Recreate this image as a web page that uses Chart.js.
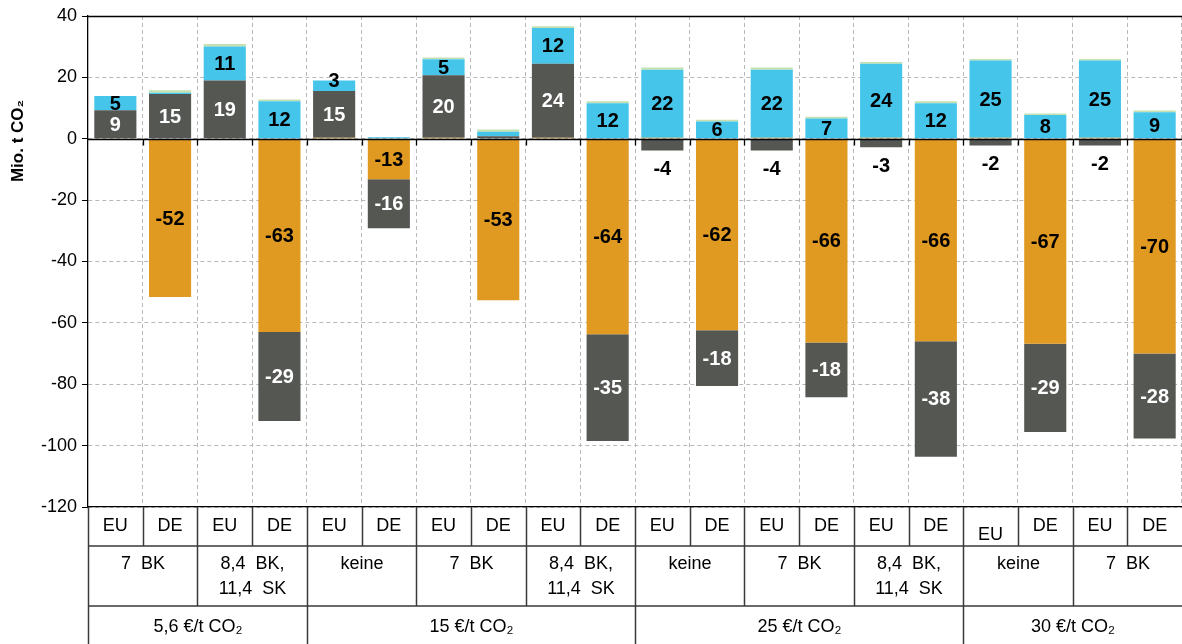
<!DOCTYPE html>
<html>
<head>
<meta charset="utf-8">
<script src="https://cdn.jsdelivr.net/npm/chart.js@4.4.1/dist/chart.umd.min.js"></script>
<style>
  body { margin: 0; background: #fff; }
  canvas { display: block; }
</style>
</head>
<body>
<canvas id="co2Chart" width="1182" height="644"></canvas>
<script>
// Regionen (erste Zeile unter dem Diagramm)
const regionen = ['EU', 'DE', 'EU', 'DE', 'EU', 'DE', 'EU', 'DE', 'EU', 'DE',
                  'EU', 'DE', 'EU', 'DE', 'EU', 'DE', 'EU', 'DE', 'EU', 'DE'];
// Mindestmengen (zweite Zeile, je 2 Spalten)
const mengen = [['7  BK'], ['8,4  BK,', '11,4  SK'], ['keine'], ['7  BK'], ['8,4  BK,', '11,4  SK'],
                ['keine'], ['7  BK'], ['8,4  BK,', '11,4  SK'], ['keine'], ['7  BK']];
// CO2-Preise (dritte Zeile) und wie viele Spalten sie umfassen
const preise = ['5,6 €/t CO₂', '15 €/t CO₂', '25 €/t CO₂', '30 €/t CO₂'];
const preisSpalten = [4, 6, 6, 4];

const yTicks = [40, 20, 0, -20, -40, -60, -80, -100, -120];

// Werte (Mio. t CO2), gestapelt in dieser Reihenfolge
const orange = [0, -51.6, 0, -63.0, 0.3, -13.2, 0.3, -52.6, 0.3, -63.7,
                0.3, -62.4, 0.3, -66.4, 0.3, -66.0, 0.3, -66.8, 0.3, -70.0];
const grau   = [9.3, 14.6, 19.0, -29.0, 15.3, -16.0, 20.4, 0.8, 24.1, -34.8,
                -3.8, -18.2, -3.8, -17.8, -2.8, -37.6, -2.2, -28.8, -2.2, -27.7];
const blau   = [4.6, 0.4, 11.1, 12.2, 3.4, 0.5, 5.2, 1.5, 11.7, 11.6,
                22.2, 5.6, 22.2, 6.6, 24.1, 11.6, 25.2, 7.7, 25.2, 8.6];
const gruen  = [0, 0.8, 0.8, 0.6, 0, 0, 0.6, 0.7, 0.6, 0.6,
                0.7, 0.6, 0.7, 0.6, 0.6, 0.6, 0.5, 0.5, 0.5, 0.6];

const FONT = '"Liberation Sans", Arial, sans-serif';

// draws zero line, frame, value labels and the category table
const extrasPlugin = {
  id: 'extras',
  afterDatasetsDraw(chart) {
    const ctx = chart.ctx;
    const area = chart.chartArea;
    const x = chart.scales.x;
    const y = chart.scales.y;
    const colW = x.getPixelForValue(1) - x.getPixelForValue(0);
    const y0 = Math.round(y.getPixelForValue(0)) + 0.5;

    ctx.save();
    ctx.strokeStyle = '#000';
    ctx.lineWidth = 1.3;
    ctx.beginPath();
    ctx.moveTo(area.left, y0);
    ctx.lineTo(area.right, y0);
    // top frame
    ctx.moveTo(area.left, Math.round(area.top) + 0.5);
    ctx.lineTo(area.right, Math.round(area.top) + 0.5);
    // little ticks under zero line
    for (let i = 1; i < regionen.length; i++) {
      const bx = Math.round(x.getPixelForValue(i) - colW / 2) + 0.5;
      ctx.moveTo(bx, y0);
      ctx.lineTo(bx, y0 + 6);
    }
    ctx.stroke();

    // value labels
    ctx.font = 'bold 20px ' + FONT;
    ctx.textAlign = 'center';
    ctx.textBaseline = 'middle';
    chart.data.datasets.forEach((ds, di) => {
      if (!ds.showLabels) return;
      const meta = chart.getDatasetMeta(di);
      meta.data.forEach((bar, i) => {
        const v = ds.data[i];
        if (Math.abs(v) < 1.8) return;
        const top = Math.min(bar.y, bar.base);
        const bottom = Math.max(bar.y, bar.base);
        let ly = (top + bottom) / 2;
        let col = ds.textColor;
        if (bottom - top < 12) {
          if (v > 0) {
            ly = top;
          } else {
            ly = bottom + 18;
            col = '#000';
          }
        }
        ctx.fillStyle = col;
        ctx.fillText(String(Math.round(v)), bar.x, ly + 1);
      });
    });
    ctx.restore();
  },
  afterDraw(chart) {
    const ctx = chart.ctx;
    const area = chart.chartArea;
    const x = chart.scales.x;
    const colW = x.getPixelForValue(1) - x.getPixelForValue(0);
    const edge = i => Math.round(x.getPixelForValue(0) - colW / 2 + i * colW) + 0.5;
    const r0 = area.bottom, r1 = r0 + 39, r2 = r0 + 99, r3 = chart.height;

    ctx.save();
    ctx.strokeStyle = '#3a3a3a';
    ctx.lineWidth = 1.5;
    ctx.beginPath();
    ctx.moveTo(edge(0), r0); ctx.lineTo(edge(0), r3);
    ctx.moveTo(area.left, r1); ctx.lineTo(area.right, r1);
    ctx.moveTo(area.left, r2); ctx.lineTo(area.right, r2);
    for (let i = 1; i < regionen.length; i++) {
      ctx.moveTo(edge(i), r0); ctx.lineTo(edge(i), r1);
    }
    for (let j = 1; j < mengen.length; j++) {
      ctx.moveTo(edge(j * 2), r1); ctx.lineTo(edge(j * 2), r2);
    }
    let k = 0;
    preisSpalten.forEach((n, j) => {
      k += n;
      if (j < preisSpalten.length - 1) {
        ctx.moveTo(edge(k), r2); ctx.lineTo(edge(k), r3);
      }
    });
    ctx.stroke();

    ctx.fillStyle = '#000';
    ctx.font = '18px ' + FONT;
    ctx.textAlign = 'center';
    ctx.textBaseline = 'middle';
    regionen.forEach((r, i) => {
      // in the reference one EU label sits a little lower
      const dy = i === 16 ? 9 : 0;
      ctx.fillText(r, x.getPixelForValue(i), r0 + 19 + dy);
    });
    mengen.forEach((lines, j) => {
      const cx = (edge(j * 2) + edge(j * 2 + 2)) / 2;
      lines.forEach((t, l) => ctx.fillText(t, cx, r1 + 18 + l * 25));
    });
    k = 0;
    preise.forEach((p, j) => {
      const cx = (edge(k) + edge(k + preisSpalten[j])) / 2;
      ctx.fillText(p, cx, r2 + 21);
      k += preisSpalten[j];
    });

    // y axis title
    ctx.translate(18, 141);
    ctx.rotate(-Math.PI / 2);
    ctx.font = 'bold 17px ' + FONT;
    ctx.fillText('Mio. t CO₂', 0, 0);
    ctx.restore();
  }
};

const ctx = document.getElementById('co2Chart').getContext('2d');

const chart = new Chart(ctx, {
  type: 'bar',
  data: {
    labels: regionen,
    datasets: [
      { label: 'orange', data: orange, backgroundColor: '#e09a22', showLabels: true, textColor: '#000' },
      { label: 'grau', data: grau, backgroundColor: '#555753', showLabels: true, textColor: '#fff' },
      { label: 'blau', data: blau, backgroundColor: '#45c5ea', showLabels: true, textColor: '#000' },
      { label: 'gruen', data: gruen, backgroundColor: '#c5e0b0', showLabels: false }
    ]
  },
  options: {
    responsive: false,
    animation: false,
    layout: { padding: { top: 16, right: 0, bottom: 0, left: 0 } },
    datasets: {
      bar: { categoryPercentage: 1, barPercentage: 0.77, borderWidth: 0 }
    },
    scales: {
      x: {
        stacked: true,
        ticks: { display: false },
        grid: { offset: true, drawTicks: false, color: '#b8b8b8' },
        border: { display: true, color: '#000', width: 1.3, dash: [4, 3] },
        afterFit: function (scale) { scale.height = 137; }
      },
      y: {
        stacked: true,
        min: -120,
        max: 40,
        afterBuildTicks: function (scale) { scale.ticks = yTicks.map(v => ({ value: v })); },
        ticks: { color: '#000', font: { size: 18, family: FONT }, padding: 5 },
        grid: { color: '#b8b8b8', tickColor: '#000', tickLength: 6 },
        border: { display: true, color: '#000', width: 1.3, dash: [4, 3] },
        afterFit: function (scale) { scale.width = 88; }
      }
    },
    plugins: {
      legend: { display: false },
      tooltip: { enabled: false },
      title: { display: false }
    }
  },
  plugins: [extrasPlugin]
});
</script>
</body>
</html>
